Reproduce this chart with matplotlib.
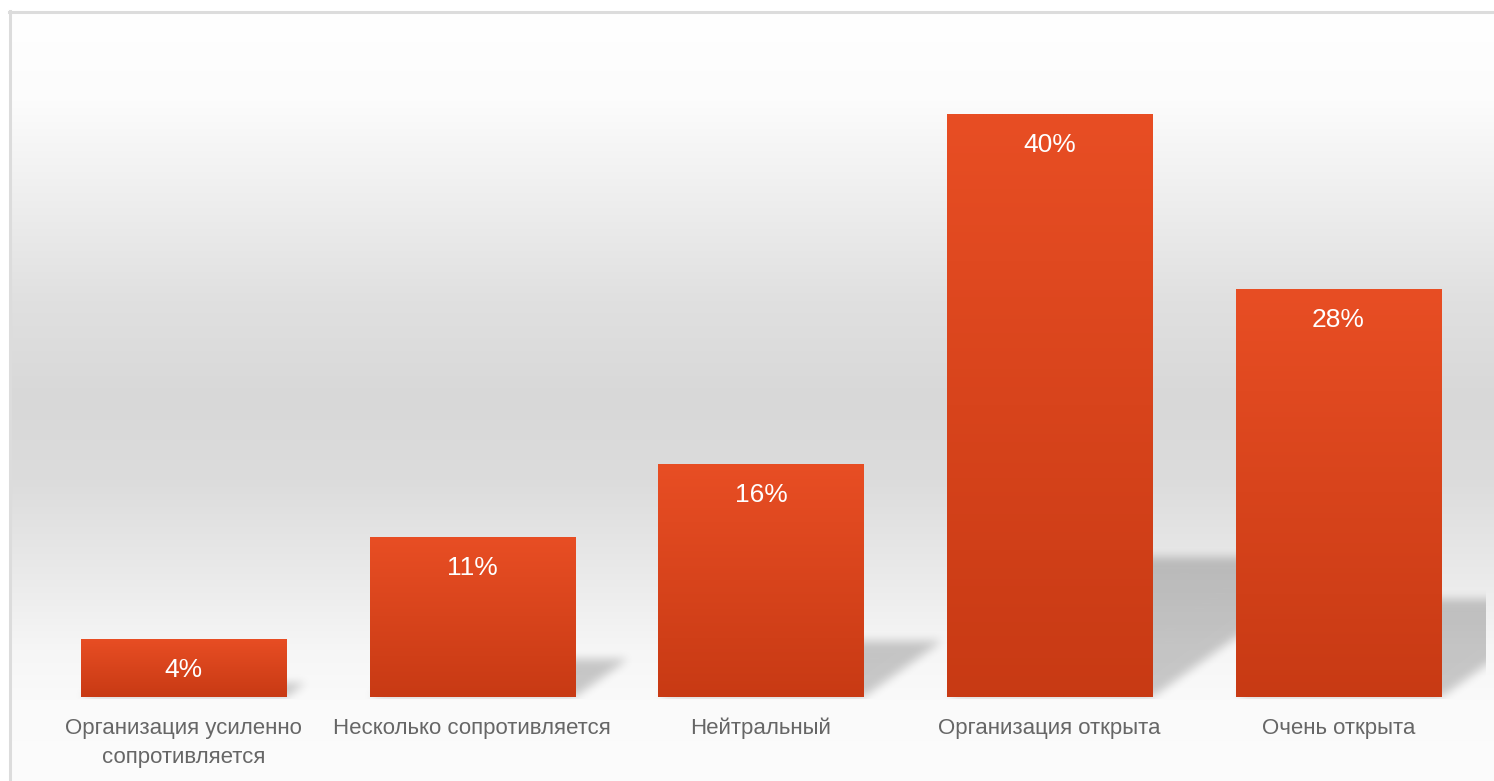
import numpy as np
import matplotlib
matplotlib.use("Agg")
import matplotlib.pyplot as plt
from matplotlib.path import Path

plt.rcParams['font.family'] = ['Liberation Sans', 'DejaVu Sans']

categories = ["Организация усиленно\nсопротивляется", "Несколько сопротивляется",
              "Нейтральный", "Организация открыта", "Очень открыта"]
values = [4, 11, 16, 40, 28]
labels = ["4%", "11%", "16%", "40%", "28%"]

W, H = 1494, 781
fig = plt.figure(figsize=(W / 100, H / 100), dpi=100)

# background panel with vertical grey gradient and light frame
bg = fig.add_axes([0, 0, 1, 1], zorder=0)
bg.set_xlim(0, W)
bg.set_ylim(H, 0)
bg.axis('off')
rows = np.arange(12, H)
stops_y = [12, 100, 200, 300, 400, 480, 580, 650, 700, 781]
stops_v = [255, 252, 238, 224, 216, 220, 235, 246, 250, 252]
grad = np.interp(rows, stops_y, stops_v) / 255.0
bg_img = np.repeat(np.repeat(grad[:, None, None], 4, axis=1), 3, axis=2)
bg.imshow(bg_img, extent=(10, W, H, 12), aspect='auto', interpolation='nearest')
bg.plot([10, 10], [H, 11], color='#dcdcdc', lw=2.2)
bg.plot([9, W], [12, 12], color='#dcdcdc', lw=2.2)

# main axes, mapped so that bar 0 centre sits at x=183.5 px and baseline at y=697 px
px_per_unit = 288.75
px_per_pct = 14.575
left_px, right_px, base_px, top_px = 10, 1486, 697, 14
ax = fig.add_axes([left_px / W, (H - base_px) / H, (right_px - left_px) / W,
                   (base_px - top_px) / H], zorder=1)
ax.patch.set_alpha(0)
xlim = (-(183.5 - left_px) / px_per_unit, 4 + (right_px - 1338.5) / px_per_unit)
ylim = (0, (base_px - top_px) / px_per_pct)
ax.set_xlim(*xlim)
ax.set_ylim(*ylim)

x = np.arange(len(values))
bw = 0.71


def box_blur(a, r, axis):
    pad = [(0, 0), (0, 0)]
    pad[axis] = (r + 1, r)
    c = np.cumsum(np.pad(a, pad, mode='edge'), axis=axis)
    n = a.shape[axis]
    hi = np.take(c, np.arange(2 * r + 1, 2 * r + 1 + n), axis=axis)
    lo = np.take(c, np.arange(0, n), axis=axis)
    return (hi - lo) / (2 * r + 1)


# soft perspective shadows, rasterised from the bar values in pixel space
yy, xx = np.mgrid[0:H, 0:W]
pts = np.column_stack([xx.ravel() + 0.5, H - yy.ravel() - 0.5])
mask = np.zeros(H * W)
for xi, v in zip(x, values):
    x0, x1 = xi - bw / 2, xi + bw / 2
    hs = 0.24 * v
    sh = 4.9 * v / px_per_unit
    verts = ax.transData.transform([(x0, 0), (x1, 0), (x1 + sh, hs), (x0 + sh, hs)])
    mask = np.maximum(mask, Path(verts).contains_points(pts))
mask = mask.reshape(H, W)
for _ in range(3):
    mask = box_blur(mask, 4, 0)
    mask = box_blur(mask, 4, 1)
mask[:, :left_px] = 0
mask[:, right_px:] = 0
mask[base_px + 2:, :] = 0
shadow = np.zeros((H, W, 4))
shadow[..., 3] = mask * 0.2
bg.imshow(shadow, extent=(0, W, H, 0), interpolation='nearest', zorder=2)
bg.set_xlim(0, W)
bg.set_ylim(H, 0)

# bars with vertical colour gradient
bars = ax.bar(x, values, width=bw, color='#d8441c', zorder=2)
top_c = np.array([232, 78, 36]) / 255.0
bot_c = np.array([200, 58, 20]) / 255.0
t = np.linspace(0, 1, 100)[:, None]
bar_grad = (top_c[None, :] * (1 - t) + bot_c[None, :] * t)[:, None, :]
for b in bars:
    im = ax.imshow(bar_grad, extent=(b.get_x(), b.get_x() + b.get_width(), 0, b.get_height()),
                   aspect='auto', zorder=3, interpolation='bilinear')
    im.set_clip_path(b)

for xi, v, lab in zip(x, values, labels):
    ax.text(xi, v - 31 / px_per_pct, lab, color='white', fontsize=19,
            ha='center', va='center', zorder=4)

ax.set_xlim(*xlim)
ax.set_ylim(*ylim)
ax.set_xticks(x)
ax.set_xticklabels(categories, fontsize=16, color='#666666', linespacing=1.5)
for tl in ax.get_xticklabels():
    tl.set_multialignment('center')
ax.tick_params(axis='x', length=0, pad=15)
ax.set_yticks([])
for s in ax.spines.values():
    s.set_visible(False)

fig.savefig('out.png', dpi=100)
